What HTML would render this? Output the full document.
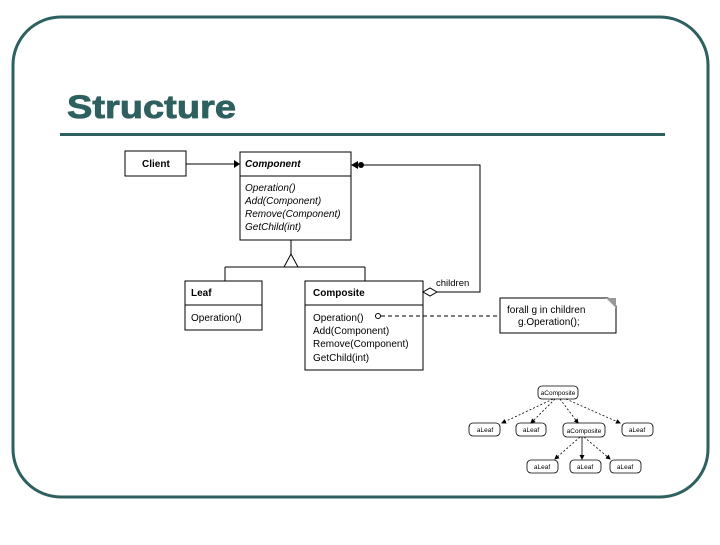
<!DOCTYPE html>
<html><head><style>
body{margin:0;width:720px;height:540px;background:#fff;overflow:hidden}
svg text{font-family:"Liberation Sans",sans-serif}
</style></head><body>
<svg width="720" height="540" viewBox="0 0 720 540">
<defs><marker id="a" markerWidth="5" markerHeight="5" refX="4" refY="2.5" orient="auto" markerUnits="userSpaceOnUse"><path d="M0,0 L5,2.5 L0,5 z" fill="#000"/></marker></defs>
<rect x="13" y="17" width="695" height="480" rx="48" fill="none" stroke="#2f6060" stroke-width="3"/>
<text x="67" y="118" font-size="32" font-weight="bold" fill="#2f6060" textLength="169" lengthAdjust="spacingAndGlyphs" stroke="#2f6060" stroke-width="0.8">Structure</text>
<rect x="60" y="133" width="605" height="3" fill="#2f6060"/>
<g stroke="#000" fill="none" stroke-width="1">
<rect x="125" y="151" width="61" height="25"/>
<rect x="240" y="152" width="111" height="88"/>
<line x1="240" y1="176" x2="351" y2="176"/>
<rect x="185" y="281" width="77" height="49"/>
<line x1="185" y1="305" x2="262" y2="305"/>
<rect x="305" y="281" width="118" height="89"/>
<line x1="305" y1="305" x2="423" y2="305"/>
<line x1="186" y1="164" x2="234" y2="164"/>
<line x1="291" y1="240" x2="291" y2="254"/>
<polygon points="291,254 284,267 298,267"/>
<line x1="225" y1="267" x2="365" y2="267"/>
<line x1="225" y1="267" x2="225" y2="281"/>
<line x1="365" y1="267" x2="365" y2="281"/>
<polyline points="437,292 480,292 480,165 362,165"/>
<polygon points="423,292 430,288 437,292 430,296"/>
<line x1="381" y1="316" x2="500" y2="316" stroke-dasharray="4,3"/>
<circle cx="378" cy="316" r="2.5"/>
<polygon points="500,298 608,298 616,306 616,333 500,333"/>
</g>
<polygon points="234,160 240,164 234,168" fill="#000"/>
<polygon points="351,165 358,161 358,169" fill="#000"/>
<circle cx="361" cy="165" r="3" fill="#000"/>
<polygon points="606,298 616,298 616,308" fill="#999"/>
<g font-size="10">
<text x="142" y="167" font-weight="bold">Client</text>
<text x="245" y="167" font-weight="bold" font-style="italic">Component</text>
<g font-style="italic"><text x="245" y="191">Operation()</text><text x="245" y="204">Add(Component)</text><text x="245" y="217">Remove(Component)</text><text x="245" y="230">GetChild(int)</text></g>
<text x="191" y="296" font-weight="bold">Leaf</text>
<text x="191" y="321">Operation()</text>
<text x="313" y="296" font-weight="bold">Composite</text>
<text x="313" y="321">Operation()</text><text x="313" y="334">Add(Component)</text><text x="313" y="347">Remove(Component)</text><text x="313" y="361">GetChild(int)</text>
<text x="436" y="286" font-size="9.5">children</text>
<text x="507" y="313">forall g in children</text>
<text x="518" y="325">g.Operation();</text>
</g>
<g stroke="#000" fill="none" stroke-width="0.8">
<rect x="538" y="386" width="40" height="13" rx="4"/>
<rect x="469" y="423" width="31" height="13" rx="4"/>
<rect x="516" y="423" width="30" height="13" rx="4"/>
<rect x="563" y="423" width="42" height="14" rx="4"/>
<rect x="622" y="423" width="31" height="13" rx="4"/>
<rect x="527" y="460" width="31" height="13" rx="4"/>
<rect x="570" y="460" width="31" height="13" rx="4"/>
<rect x="610" y="460" width="31" height="13" rx="4"/>
<g stroke-dasharray="2,2">
<line x1="553" y1="399" x2="502" y2="423" marker-end="url(#a)"/><line x1="555" y1="399" x2="531" y2="423" marker-end="url(#a)"/>
<line x1="560" y1="399" x2="578" y2="423" marker-end="url(#a)"/><line x1="566" y1="399" x2="620" y2="423" marker-end="url(#a)"/>
<line x1="580" y1="437" x2="555" y2="459" marker-end="url(#a)"/><line x1="584" y1="437" x2="610" y2="459" marker-end="url(#a)"/>
</g>
<line x1="582" y1="437" x2="582" y2="459" marker-end="url(#a)"/>
</g>
<g font-size="6.5" text-anchor="middle">
<text x="558" y="395">aComposite</text>
<text x="485" y="432">aLeaf</text><text x="531" y="432">aLeaf</text>
<text x="584" y="433">aComposite</text><text x="637" y="432">aLeaf</text>
<text x="542" y="469">aLeaf</text><text x="585" y="469">aLeaf</text><text x="625" y="469">aLeaf</text>
</g>
</svg>
</body></html>
